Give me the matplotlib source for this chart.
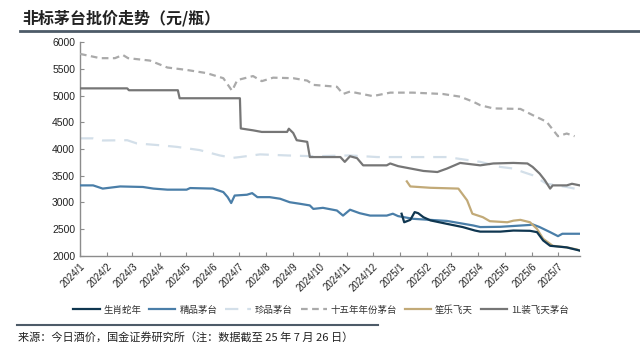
import matplotlib
matplotlib.use("Agg")
import matplotlib.pyplot as plt
import matplotlib.dates as mdates
import pandas as pd

plt.rcParams['font.family'] = ['Liberation Sans', 'Noto Sans CJK SC', 'DejaVu Sans']
cjk = ['Noto Sans CJK SC', 'DejaVu Sans']

# 数据 (元/瓶)
l1_dates = ["2024-01-01", "2024-02-24", "2024-02-26", "2024-04-22", "2024-04-24", "2024-07-02",
            "2024-07-03", "2024-07-17", "2024-07-27", "2024-08-25", "2024-08-27", "2024-09-01",
            "2024-09-05", "2024-09-17", "2024-09-20", "2024-10-25", "2024-10-30", "2024-11-05",
            "2024-11-13", "2024-11-20", "2024-12-17", "2024-12-21", "2024-12-30", "2025-01-28",
            "2025-02-13", "2025-02-24", "2025-03-11", "2025-04-03", "2025-04-18", "2025-05-11",
            "2025-05-27", "2025-06-02", "2025-06-10", "2025-06-16", "2025-06-22", "2025-06-25",
            "2025-07-11", "2025-07-17", "2025-07-26"]
l1_vals = [5135, 5135, 5100, 5100, 4950, 4950,
           4385, 4350, 4320, 4320, 4380, 4300,
           4165, 4135, 3850, 3850, 3760, 3865,
           3830, 3695, 3695, 3730, 3680, 3590,
           3570, 3635, 3740, 3695, 3730, 3740,
           3730, 3665, 3540, 3415, 3260, 3320,
           3320, 3350, 3320]

y15_dates = ["2024-01-01", "2024-01-24", "2024-02-10", "2024-02-19", "2024-02-25", "2024-03-21",
             "2024-04-10", "2024-05-02", "2024-05-25", "2024-06-13", "2024-06-23", "2024-06-29",
             "2024-07-17", "2024-07-27", "2024-08-09", "2024-09-01", "2024-09-17", "2024-09-24",
             "2024-10-21", "2024-10-28", "2024-11-05", "2024-12-01", "2024-12-21", "2025-01-16",
             "2025-02-19", "2025-03-11", "2025-03-26", "2025-04-03", "2025-04-18", "2025-05-19",
             "2025-06-02", "2025-06-18", "2025-07-01", "2025-07-11", "2025-07-20"]
y15_vals = [5780, 5700, 5700, 5760, 5700, 5655,
            5525, 5480, 5420, 5325, 5090, 5290,
            5365, 5270, 5335, 5325, 5280, 5200,
            5165, 5030, 5075, 4990, 5055, 5055,
            5030, 4980, 4885, 4820, 4760, 4750,
            4635, 4510, 4240, 4290, 4240]

zp_dates = ["2024-01-01", "2024-01-16", "2024-01-27", "2024-02-24", "2024-03-06", "2024-04-02",
            "2024-04-21", "2024-05-17", "2024-06-09", "2024-06-24", "2024-07-02", "2024-07-25",
            "2024-08-25", "2024-09-24", "2024-11-05", "2024-12-06", "2025-01-16", "2025-02-24",
            "2025-04-03", "2025-04-26", "2025-05-11", "2025-05-22", "2025-06-02", "2025-06-18",
            "2025-07-11", "2025-07-20"]
zp_vals = [4200, 4200, 4160, 4165, 4105, 4070,
           4040, 3980, 3880, 3835, 3850, 3900,
           3880, 3865, 3880, 3850, 3850, 3850,
           3760, 3665, 3635, 3570, 3510, 3350,
           3290, 3260]

jp_dates = ["2024-01-01", "2024-01-16", "2024-01-27", "2024-02-16", "2024-03-13", "2024-03-25",
            "2024-04-10", "2024-05-02", "2024-05-06", "2024-06-01", "2024-06-13", "2024-06-18",
            "2024-06-22", "2024-06-26", "2024-07-10", "2024-07-16", "2024-07-22", "2024-08-05",
            "2024-08-17", "2024-08-28", "2024-09-09", "2024-09-20", "2024-09-24", "2024-10-05",
            "2024-10-21", "2024-10-28", "2024-11-05", "2024-11-16", "2024-11-28", "2024-12-17",
            "2024-12-24", "2024-12-30", "2025-01-16", "2025-02-24", "2025-03-26", "2025-04-03",
            "2025-04-26", "2025-05-30", "2025-06-02", "2025-06-10", "2025-06-22", "2025-07-01",
            "2025-07-06", "2025-07-26"]
jp_vals = [3320, 3320, 3260, 3300, 3290, 3260,
           3240, 3240, 3270, 3260, 3195, 3100,
           2990, 3130, 3145, 3175, 3100, 3100,
           3070, 3005, 2975, 2945, 2880, 2900,
           2850, 2755, 2865, 2800, 2755, 2755,
           2790, 2745, 2695, 2655, 2570, 2540,
           2545, 2580, 2590, 2540, 2445, 2370,
           2415, 2415]

sx_dates = ["2025-01-03", "2025-01-06", "2025-01-13", "2025-01-18", "2025-01-22", "2025-01-28",
            "2025-02-05", "2025-02-24", "2025-03-14", "2025-03-28", "2025-04-03", "2025-04-26",
            "2025-05-11", "2025-05-30", "2025-06-07", "2025-06-14", "2025-06-22", "2025-07-11",
            "2025-07-26"]
sx_vals = [2790, 2630, 2675, 2820, 2800, 2725,
           2665, 2600, 2540, 2475, 2455, 2455,
           2475, 2470, 2445, 2290, 2190, 2160,
           2100]

sl_dates = ["2025-01-09", "2025-01-13", "2025-02-05", "2025-03-09", "2025-03-19", "2025-03-25",
            "2025-04-06", "2025-04-14", "2025-05-04", "2025-05-11", "2025-05-19", "2025-05-30",
            "2025-06-07", "2025-06-14", "2025-06-25", "2025-07-11", "2025-07-23", "2025-07-26"]
sl_vals = [3395, 3300, 3275, 3260, 3040, 2790,
           2725, 2650, 2630, 2660, 2675, 2630,
           2505, 2320, 2190, 2160, 2120, 2100]

fig = plt.figure(figsize=(6.4, 3.54), dpi=100)
ax = fig.add_axes([0.125, 0.277, 0.781, 0.604])

def d(lst):
    return pd.to_datetime(lst)

ax.plot(d(sx_dates), sx_vals, color='#0f3650', lw=1.6, label='生肖蛇年', zorder=6)
ax.plot(d(jp_dates), jp_vals, color='#4a7ea8', lw=1.6, label='精品茅台', zorder=4)
ax.plot(d(zp_dates), zp_vals, color='#d3dfe9', lw=1.6, ls=(0, (6, 4)), label='珍品茅台', zorder=2)
ax.plot(d(y15_dates), y15_vals, color='#aaaaaa', lw=1.6, ls=(0, (3, 2)), label='十五年年份茅台', zorder=3)
ax.plot(d(sl_dates), sl_vals, color='#c2aa78', lw=1.6, label='笙乐飞天', zorder=5)
ax.plot(d(l1_dates), l1_vals, color='#767676', lw=1.6, label='1L装飞天茅台', zorder=3)

ax.set_ylim(2000, 6000)
ax.set_yticks(range(2000, 6001, 500))
ax.set_xlim(pd.Timestamp("2024-01-01"), pd.Timestamp("2025-07-26"))
ax.xaxis.set_major_locator(mdates.MonthLocator())
ax.xaxis.set_major_formatter(mdates.DateFormatter('%Y/%-m'))

for s in ['top', 'right']:
    ax.spines[s].set_visible(False)
for s in ['left', 'bottom']:
    ax.spines[s].set_color('#8c8c8c')
    ax.spines[s].set_linewidth(1)
ax.tick_params(direction='in', length=3, color='#8c8c8c', labelsize=7.5, labelcolor='#222222')
ax.tick_params(axis='x', pad=4)
for lb in ax.get_xticklabels():
    lb.set_rotation(45)
    lb.set_ha('right')
    lb.set_rotation_mode('anchor')
    lb.set_fontsize(7)

leg = ax.legend(loc='center', bbox_to_anchor=(321 / 640, 1 - 310 / 354), bbox_transform=fig.transFigure,
                ncol=6, frameon=False, prop={'family': cjk, 'size': 6.8},
                handlelength=2.8, handletextpad=0.4, columnspacing=0.8)
for t in leg.get_texts():
    t.set_color('#333333')

# 标题与装饰线
fig.text(22 / 640, 1 - 18 / 354, '非标茅台批价走势（元/瓶）', family=cjk, fontsize=11.5,
         fontweight='bold', style='italic', color='#222222', va='center', ha='left')
fig.add_artist(plt.Line2D([20 / 640, 1.0], [1 - 31 / 354, 1 - 31 / 354], color='#4d5b68', lw=2,
                          transform=fig.transFigure))
fig.add_artist(plt.Line2D([17 / 640, 378 / 640], [1 - 325 / 354, 1 - 325 / 354], color='#4d5b68', lw=1.5,
                          transform=fig.transFigure))
fig.text(18 / 640, 1 - 338 / 354, '来源：今日酒价，国金证券研究所（注：数据截至 25 年 7 月 26 日）',
         family=cjk, fontsize=8, color='#222222', va='center', ha='left')

fig.savefig('out.png', dpi=100)
